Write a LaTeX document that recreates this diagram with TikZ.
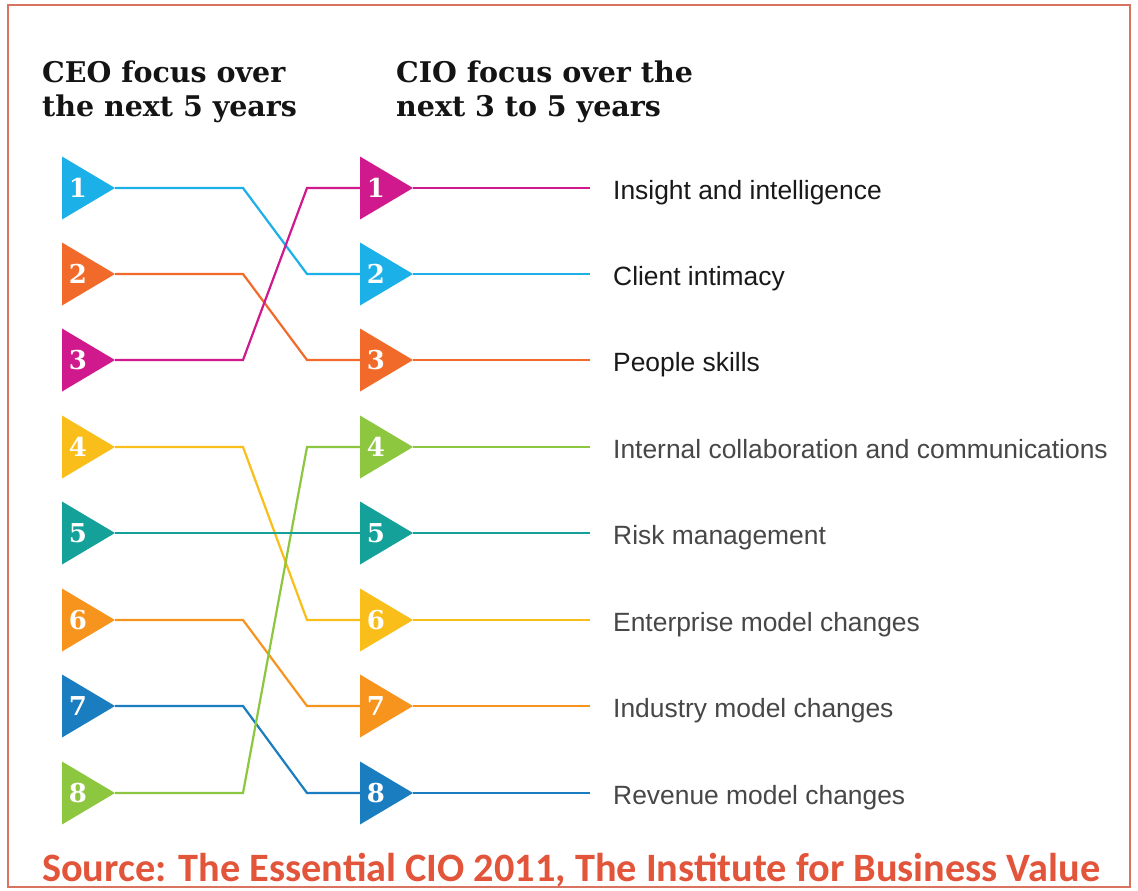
\documentclass[tikz,border=0pt]{standalone}
\usepackage{fontspec}
\setmainfont{Liberation Sans}
\newfontfamily\slabfont{DejaVu Serif}
\newfontfamily\srcfont{Carlito}
\usetikzlibrary{shapes.geometric}
\definecolor{ccyan}{HTML}{1BB0E8}
\definecolor{cred}{HTML}{F26A2A}
\definecolor{cmag}{HTML}{D0198C}
\definecolor{cyel}{HTML}{F9BE1A}
\definecolor{cteal}{HTML}{14A19A}
\definecolor{corange}{HTML}{F7941E}
\definecolor{cblue}{HTML}{1A7DC0}
\definecolor{cgreen}{HTML}{8DC63F}
\definecolor{frame}{HTML}{D9735F}
\definecolor{srccol}{HTML}{E2553A}
\begin{document}
\begin{tikzpicture}[x=1pt,y=-1pt,
  tri/.style={isosceles triangle, isosceles triangle stretches, shape border rotate=0,
    minimum width=63pt, minimum height=53pt, inner sep=0pt, outer sep=0pt, draw=none, anchor=west},
  num/.style={text=white, font=\slabfont\bfseries\fontsize{26}{26}\selectfont, inner sep=0pt},
  link/.style={line width=2.2pt, line join=miter},
  head/.style={anchor=base west, align=left, font=\slabfont\bfseries\fontsize{28.5}{35}\selectfont, text=black!92, inner sep=0pt},
  lab/.style={anchor=base west, font=\fontsize{26.4}{26}\selectfont, inner sep=0pt},
  strong/.style={lab, text=black!90},
  weak/.style={lab, text=black!72}]
\useasboundingbox (0,0) rectangle (1138,891);
\fill[white] (0,0) rectangle (1138,891);
\draw[frame, line width=1.5pt] (8,5) rectangle (1130,887);

\node[head] (h1) at (42,117) {CEO focus over\\the next 5 years};
\node[head] (h2) at (396,117) {CIO focus over the\\next 3 to 5 years};

% left triangles
\foreach \i/\c/\y in {1/ccyan/188, 2/cred/274, 3/cmag/360, 4/cyel/447, 5/cteal/533, 6/corange/620, 7/cblue/706, 8/cgreen/793}{
  \node[tri, fill=\c] (L\i) at (62,\y) {};
  \node[num] (nL\i) at (78,\y) {\i};
}
% right triangles
\foreach \i/\c/\y in {1/cmag/188, 2/ccyan/274, 3/cred/360, 4/cgreen/447, 5/cteal/533, 6/cyel/620, 7/corange/706, 8/cblue/793}{
  \node[tri, fill=\c] (R\i) at (360,\y) {};
  \node[num] (nR\i) at (376,\y) {\i};
  \coordinate (E\i) at (590,\y);
}

% connectors
\foreach \a/\b/\c in {1/2/ccyan, 2/3/cred, 3/1/cmag, 4/6/cyel, 6/7/corange, 7/8/cblue, 8/4/cgreen}{
  \draw[link, \c] (L\a.apex) -- ([xshift=128pt]L\a.apex) -- ([xshift=-53pt]R\b.west) -- (R\b.west);
}
\draw[link, cteal] (L5.apex) -- (R5.west);
\foreach \b/\c in {1/cmag, 2/ccyan, 3/cred, 4/cgreen, 5/cteal, 6/cyel, 7/corange, 8/cblue}{
  \draw[link, \c] (R\b.apex) -- (E\b);
}

\node[strong] (t1) at (613,199) {Insight and intelligence};
\node[strong] (t2) at (613,285) {Client intimacy};
\node[strong] (t3) at (613,371) {People skills};
\node[weak] (t4) at (613,458) {Internal collaboration and communications};
\node[weak] (t5) at (613,544) {Risk management};
\node[weak] (t6) at (613,631) {Enterprise model changes};
\node[weak] (t7) at (613,717) {Industry model changes};
\node[weak] (t8) at (613,804) {Revenue model changes};

\node[anchor=base west, inner sep=0pt, text=srccol, font=\srcfont\bfseries\fontsize{40.3}{40}\selectfont] (src) at (42,881) {Source: The Essential CIO 2011, The Institute for Business Value};
\end{tikzpicture}
\end{document}
